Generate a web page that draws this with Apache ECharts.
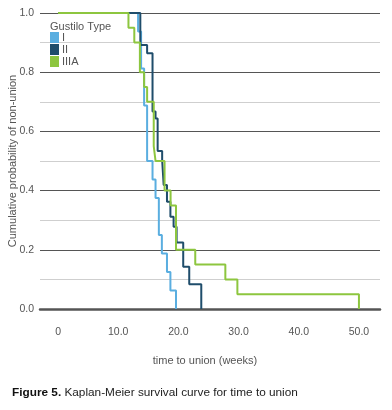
<!DOCTYPE html>
<html>
<head>
<meta charset="utf-8">
<script src="https://cdn.jsdelivr.net/npm/echarts@6/dist/echarts.min.js"></script>
<style>
  html, body { margin: 0; padding: 0; background: #fff; }
  #chart { width: 392px; height: 410px; }
</style>
</head>
<body>
<div id="chart"></div>
<script>
// Kaplan-Meier steps: time (weeks) and survival after each drop
const typeITimes = [0, 13.3, 13.8, 14.3, 14.8, 15.7, 16.2, 16.75, 17.25, 18.1, 18.67, 19.6];
const typeIProb  = [1, 0.9375, 0.8125, 0.6875, 0.5, 0.4375, 0.375, 0.25, 0.1875, 0.125, 0.0625, 0];

const typeIITimes = [0, 13.67, 14.8, 15.7, 16.2, 16.55, 17.3, 17.55, 18.1, 18.67, 19.2, 19.7, 20.8, 21.8, 23.8];
const typeIIProb  = [1, 0.892, 0.864, 0.667, 0.644, 0.534, 0.503, 0.419, 0.362, 0.312, 0.278, 0.225, 0.143, 0.084, 0];

const typeIIIATimes = [0, 11.7, 12.67, 13.6, 14.3, 14.8, 15.9, 16.2, 17.7, 18.7, 19.6, 22.8, 27.8, 29.8, 50];
const typeIIIAProb  = [1, 0.95, 0.9, 0.8, 0.75, 0.7, 0.55, 0.5, 0.4, 0.35, 0.2, 0.15, 0.1, 0.05, 0];

const xTicks = [0, 10, 20, 30, 40, 50];
const legendNames = ['I', 'II', 'IIIA'];

const font = '"Liberation Sans", Arial, Helvetica, sans-serif';
const textGray = '#555555';

const zip = (xs, ys) => xs.map((x, i) => [x, ys[i]]);

const chart = echarts.init(document.getElementById('chart'));

const stepSeries = (name, times, probs, color) => ({
  name: name,
  type: 'line',
  step: 'end',
  data: zip(times, probs),
  showSymbol: false,
  symbol: 'none',
  color: color,
  lineStyle: { color: color, width: 2 },
  itemStyle: { color: color },
  animation: false
});

const option = {
  animation: false,
  textStyle: { fontFamily: font },
  grid: { left: 40, right: 12, top: 13, bottom: 101, outerBoundsMode: 'none', containLabel: false },
  title: [
    {
      text: 'Gustilo Type',
      left: 45,
      top: 16,
      textStyle: { fontFamily: font, fontSize: 11, fontWeight: 'normal', color: textGray }
    },
    {
      text: '{b|Figure 5.} Kaplan-Meier survival curve for time to union',
      left: 7,
      top: 382,
      textStyle: {
        fontFamily: font,
        fontSize: 11.8,
        fontWeight: 'normal',
        color: '#222',
        rich: {
          b: { fontFamily: font, fontSize: 11.8, fontWeight: 'bold', color: '#111' }
        }
      }
    }
  ],
  legend: {
    data: legendNames,
    orient: 'vertical',
    left: 45,
    top: 27,
    icon: 'rect',
    itemWidth: 9,
    itemHeight: 11,
    itemGap: 1,
    textStyle: { fontFamily: font, fontSize: 11, color: textGray, padding: [0, 0, 0, -2] }
  },
  xAxis: {
    type: 'value',
    min: -3,
    max: 53.5,
    name: 'time to union (weeks)',
    nameLocation: 'middle',
    nameGap: 46,
    nameMoveOverlap: false,
    nameTextStyle: { fontFamily: font, fontSize: 11, color: textGray, padding: [0, 10, 0, 0] },
    axisLine: { show: true, onZero: false, lineStyle: { color: '#555', width: 2.5 } },
    axisTick: { show: false },
    splitLine: { show: false },
    axisLabel: {
      customValues: xTicks,
      margin: 18,
      fontFamily: font,
      fontSize: 10.5,
      color: textGray,
      formatter: v => (v === 0 ? '0' : v.toFixed(1))
    }
  },
  yAxis: {
    type: 'value',
    min: 0,
    max: 1,
    interval: 0.1,
    name: 'Cumulative probability of non-union',
    nameLocation: 'middle',
    nameGap: 22,
    nameMoveOverlap: false,
    nameTextStyle: { fontFamily: font, fontSize: 11, color: textGray },
    axisLine: { show: false },
    axisTick: { show: false },
    splitLine: { show: true, lineStyle: { color: ['#555555', '#cfcfcf'], width: 1 } },
    axisLabel: {
      margin: 6,
      fontFamily: font,
      fontSize: 10.5,
      color: textGray,
      formatter: v => (Math.round(v * 10) % 2 === 0 ? v.toFixed(1) : '')
    }
  },
  series: [
    stepSeries('I', typeITimes, typeIProb, '#5aaee0'),
    stepSeries('II', typeIITimes, typeIIProb, '#1f4d6b'),
    stepSeries('IIIA', typeIIIATimes, typeIIIAProb, '#8dc63f')
  ]
};

chart.setOption(option);
</script>
</body>
</html>
